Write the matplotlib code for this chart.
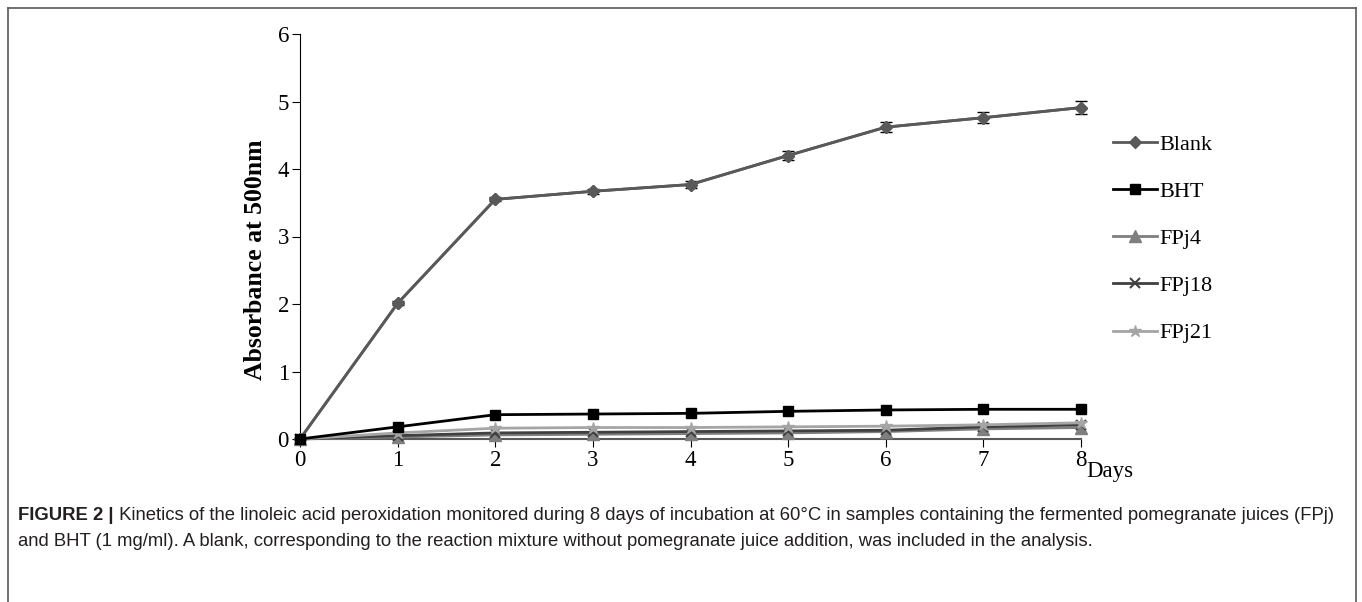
import matplotlib
matplotlib.use("Agg")
from matplotlib import pyplot as plt
from matplotlib.lines import Line2D

days = [0, 1, 2, 3, 4, 5, 6, 7, 8]
blank = [0, 2.01, 3.55, 3.67, 3.77, 4.2, 4.62, 4.76, 4.91]
blank_err = [0, 0.03, 0.03, 0.04, 0.05, 0.07, 0.07, 0.08, 0.1]
bht = [0, 0.18, 0.36, 0.37, 0.38, 0.41, 0.43, 0.44, 0.44]
fpj4 = [0, 0.03, 0.06, 0.07, 0.08, 0.09, 0.11, 0.15, 0.17]
fpj18 = [0, 0.05, 0.09, 0.10, 0.11, 0.12, 0.13, 0.18, 0.21]
fpj21 = [0, 0.09, 0.16, 0.17, 0.17, 0.18, 0.19, 0.21, 0.24]

W, H = 1362, 602
fig = plt.figure(figsize=(W / 100, H / 100), dpi=100)
ax = fig.add_axes([300 / W, 1 - 439 / H, (1081 - 300) / W, (439 - 34) / H])

serif = ['Liberation Serif', 'DejaVu Serif']

ax.errorbar(days, blank, yerr=blank_err, color='#595959', lw=2, marker='D', ms=6,
            ecolor='black', elinewidth=1, capsize=4, zorder=3)
l_blank, = ax.plot(days, blank, color='#595959', lw=2, marker='D', ms=6, label='Blank', zorder=3)
l_bht, = ax.plot(days, bht, color='black', lw=2, marker='s', ms=7, label='BHT', zorder=4)
l_4, = ax.plot(days, fpj4, color='#7f7f7f', lw=2, marker='^', ms=8, label='FPj4', zorder=3)
l_18, = ax.plot(days, fpj18, color='#404040', lw=2, marker='x', ms=7, mew=1.5, label='FPj18', zorder=3)
l_21, = ax.plot(days, fpj21, color='#a5a5a5', lw=2, marker='*', ms=9, label='FPj21', zorder=3)

ax.set_xlim(0, 8)
ax.set_ylim(0, 6)
ax.set_xticks(days)
ax.set_yticks(range(7))
for s in ['top', 'right']:
    ax.spines[s].set_visible(False)
ax.spines['left'].set_color('black')
ax.spines['bottom'].set_color('#595959')
ax.spines['bottom'].set_linewidth(1.5)
ax.tick_params(axis='both', direction='out', length=6, labelsize=16.5)
ax.tick_params(axis='y', pad=2)
ax.tick_params(axis='x', pad=2)
for lab in ax.get_xticklabels() + ax.get_yticklabels():
    lab.set_family(serif)
ax.set_ylabel('Absorbance at 500nm', family=serif, fontsize=18.5, fontweight='bold')
ax.yaxis.set_label_coords(-0.042, 0.442)
for ln in ax.lines:
    ln.set_clip_on(False)

fig.text(1110 / W, 1 - 472 / H, 'Days', family=serif, fontsize=16.5, ha='center', va='center')

ax.legend(handles=[l_blank, l_bht, l_4, l_18, l_21], loc='upper left',
          bbox_to_anchor=(1113 / W, 1 - 134 / H), bbox_transform=fig.transFigure,
          frameon=False, prop={'family': serif, 'size': 16},
          handlelength=2.0, handletextpad=0.1, labelspacing=1.2, borderpad=0, borderaxespad=0)

# frame around the figure panel
fr = dict(color='#595959', lw=1.2, transform=fig.transFigure)
fig.add_artist(Line2D([8 / W, 8 / W], [0, 1 - 8 / H], **fr))
fig.add_artist(Line2D([8 / W, 1356 / W], [1 - 8 / H, 1 - 8 / H], **fr))
fig.add_artist(Line2D([1356 / W, 1356 / W], [0, 1 - 8 / H], **fr))

sans = ['Liberation Sans Narrow', 'Liberation Sans', 'DejaVu Sans']
cap1 = (' Kinetics of the linoleic acid peroxidation monitored during 8 days of incubation at 60\u00b0C '
        'in samples containing the fermented pomegranate juices (FPj)')
cap2 = ('and BHT (1 mg/ml). A blank, corresponding to the reaction mixture without pomegranate juice '
        'addition, was included in the analysis.')
t0 = fig.text(18 / W, 1 - 516 / H, 'FIGURE 2 |', family=sans, fontsize=13.3, fontweight='bold',
              color='#231f20', va='center')
fig.canvas.draw()
bb = t0.get_window_extent()
fig.text(bb.x1 / W, 1 - 516 / H, cap1, family=sans, fontsize=13.3, color='#231f20', va='center')
fig.text(18 / W, 1 - 541 / H, cap2, family=sans, fontsize=13.3, color='#231f20', va='center')

fig.savefig('out.png', dpi=100)
